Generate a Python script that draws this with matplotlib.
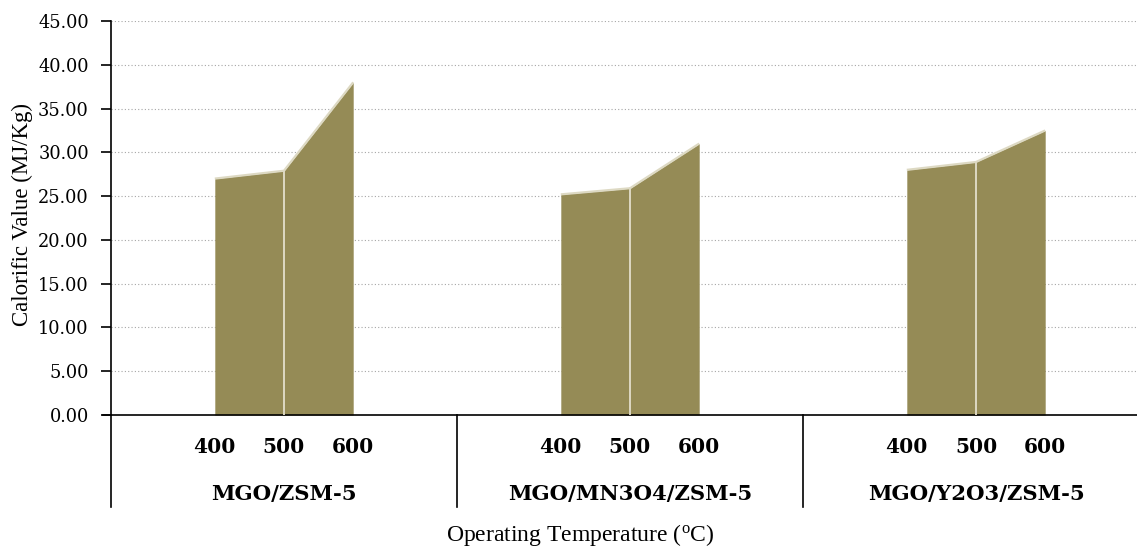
import matplotlib
matplotlib.use("Agg")
import matplotlib.pyplot as plt
from matplotlib.lines import Line2D

groups = ["MGO/ZSM-5", "MGO/MN3O4/ZSM-5", "MGO/Y2O3/ZSM-5"]
temps = ["400", "500", "600"]
mgo_zsm5 = [27.0, 27.9, 38.0]
mgo_mn3o4_zsm5 = [25.2, 25.9, 31.0]
mgo_y2o3_zsm5 = [28.0, 28.9, 32.5]
series = [mgo_zsm5, mgo_mn3o4_zsm5, mgo_y2o3_zsm5]
yticks = [0, 5, 10, 15, 20, 25, 30, 35, 40, 45]

W, H = 1137, 547
fig = plt.figure(figsize=(W / 100, H / 100), dpi=100)
ax = fig.add_axes([111 / W, (H - 415) / H, (1149 - 111) / W, (415 - 21) / H])

fill = "#958B56"
edge = "#DDD9C3"
nslots = 5
for g, vals in enumerate(series):
    xs = [g * nslots + 1 + i for i in range(len(vals))]
    ax.fill_between(xs, vals, 0, color=fill, linewidth=0, zorder=2)
    ax.plot(xs, vals, color=edge, lw=1.6, zorder=3, solid_capstyle="butt")
    ax.plot([xs[1], xs[1]], [0, vals[1]], color=edge, lw=1.4, zorder=3)

ax.set_xlim(-0.5, len(groups) * nslots - 0.5)
ax.set_ylim(0, 45)
ax.set_yticks(yticks)
ax.set_yticklabels([f"{v:.2f}" for v in yticks], fontfamily="DejaVu Serif", fontsize=12.8)
ax.yaxis.grid(True, linestyle=(0, (1, 2)), color="#A6A6A6", lw=0.8, zorder=0)
ax.set_axisbelow(True)
ax.set_xticks([])
ax.tick_params(axis="y", length=7, width=1.2, direction="out", pad=9)
for s in ["top", "right"]:
    ax.spines[s].set_visible(False)
ax.spines["bottom"].set_linewidth(1.2)
ax.spines["left"].set_linewidth(1.2)

# multi-level category axis
trans = ax.get_xaxis_transform()
def ypix(p):
    return (415 - p) / (415 - 21)

for g, name in enumerate(groups):
    for i, t in enumerate(temps):
        ax.text(g * nslots + 1 + i, ypix(447), t, transform=trans, ha="center", va="center",
                fontfamily="DejaVu Serif", fontweight="bold", fontsize=14.5, clip_on=False)
    ax.text(g * nslots + 2, ypix(494), name, transform=trans, ha="center", va="center",
            fontfamily="DejaVu Serif", fontweight="bold", fontsize=15.3, clip_on=False)
    xb = g * nslots - 0.5
    ax.add_line(Line2D([xb, xb], [0, ypix(507)], transform=trans, color="black", lw=1.2, clip_on=False))
# small tick left of origin
ax.add_line(Line2D([-0.5 - 0.11, -0.5], [0, 0], transform=trans, color="black", lw=1.2, clip_on=False))

fig.text(22 / W, 1 - 215 / H, "Calorific Value (MJ/Kg)", rotation=90, ha="center", va="center",
         fontfamily="Liberation Serif", fontsize=16.5)
plt.rcParams["mathtext.fontset"] = "custom"
plt.rcParams["mathtext.rm"] = "Liberation Serif"
fig.text(580 / W, 1 - 535 / H, r"Operating Temperature ($\mathrm{^{o}}$C)", ha="center", va="center",
         fontfamily="Liberation Serif", fontsize=17)

fig.savefig("out.png", dpi=100)
